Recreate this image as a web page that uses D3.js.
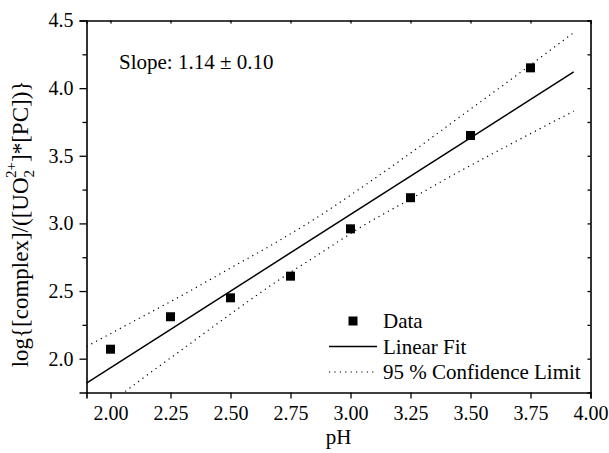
<!doctype html>
<html>
<head>
<meta charset="utf-8">
<script src="https://cdn.jsdelivr.net/npm/d3@7/dist/d3.min.js"></script>
<style>
  body { margin: 0; background: #fff; }
  text { font-family: "Liberation Serif", "Times New Roman", serif; fill: #000; }
</style>
</head>
<body>
<svg id="chart"></svg>
<script>
// measured data
var phValues = [2.00, 2.25, 2.50, 2.75, 3.00, 3.25, 3.50, 3.75];
var logValues = [2.07, 2.31, 2.45, 2.61, 2.96, 3.19, 3.65, 4.15];
// linear fit end points
var fitX = [1.90, 3.93];
var fitY = [1.82, 4.12];
// 95 % confidence limits
var bandX = [1.90, 2.10, 2.30, 2.50, 2.70, 2.875, 3.05, 3.25, 3.45, 3.65, 3.93];
var upperY = [2.09, 2.28, 2.47, 2.67, 2.87, 3.06, 3.27, 3.52, 3.78, 4.04, 4.41];
var lowerY = [1.54, 1.81, 2.07, 2.33, 2.58, 2.78, 2.98, 3.18, 3.38, 3.57, 3.83];
// ticks
var xTicks = [2.00, 2.25, 2.50, 2.75, 3.00, 3.25, 3.50, 3.75, 4.00];
var yMajor = [2.0, 2.5, 3.0, 3.5, 4.0, 4.5];
var yMinor = [2.25, 2.75, 3.25, 3.75, 4.25];
var legendItems = ["Data", "Linear Fit", "95 % Confidence Limit"];
var slopeText = "Slope: 1.14 \u00b1 0.10";

var width = 609, height = 453;
var margin = {top: 20.5, right: 18.5, bottom: 60.5, left: 86.5};
var w = width - margin.left - margin.right, h = height - margin.top - margin.bottom;

var x = d3.scaleLinear().domain([1.9, 4.0]).range([0, w]);
var y = d3.scaleLinear().domain([1.75, 4.5]).range([h, 0]);

var svg = d3.select("#chart").attr("width", width).attr("height", height);
var chart = svg.append("g").attr("transform", "translate(" + margin.left + "," + margin.top + ")");

chart.append("clipPath").attr("id", "clip")
     .append("rect").attr("width", w).attr("height", h);

// axes
var fs = "20px";
var xAxis = chart.append("g").attr("transform", "translate(0," + h + ")")
     .call(d3.axisBottom(x).tickValues(xTicks).tickFormat(d3.format(".2f")).tickSizeOuter(0).tickSize(6).tickPadding(7));
var xTop = chart.append("g")
     .call(d3.axisBottom(x).tickValues(xTicks).tickFormat("").tickSizeOuter(0).tickSize(3));
var yAxis = chart.append("g")
     .call(d3.axisLeft(y).tickValues(yMajor).tickFormat(d3.format(".1f")).tickSizeOuter(0).tickSize(7).tickPadding(6));
chart.append("g")
     .call(d3.axisLeft(y).tickValues(yMinor).tickFormat("").tickSizeOuter(0).tickSize(4))
     .select(".domain").remove();
var yRight = chart.append("g").attr("transform", "translate(" + w + ",0)")
     .call(d3.axisLeft(y).tickValues(yMajor.concat(yMinor)).tickFormat("").tickSizeOuter(0).tickSize(3));

chart.selectAll(".domain").attr("stroke", "#000").attr("stroke-width", 1.6);
chart.selectAll(".tick line").attr("stroke", "#000").attr("stroke-width", 1.3);
chart.selectAll(".tick text").style("font-size", fs).style("font-family", "Liberation Serif");
// top and right ticks point inside
xTop.selectAll(".tick line").attr("y2", 3);
yRight.selectAll(".tick line").attr("x2", -3);

// lines
var plotArea = chart.append("g").attr("clip-path", "url(#clip)");
var bandLine = d3.line().curve(d3.curveMonotoneX).x(function (d) { return x(d[0]); }).y(function (d) { return y(d[1]); });
plotArea.append("path").datum(d3.zip(bandX, upperY)).attr("d", bandLine)
     .attr("fill", "none").attr("stroke", "#000").attr("stroke-width", 1.2).attr("stroke-dasharray", "1.2,4.2");
plotArea.append("path").datum(d3.zip(bandX, lowerY)).attr("d", bandLine)
     .attr("fill", "none").attr("stroke", "#000").attr("stroke-width", 1.2).attr("stroke-dasharray", "1.2,4.2");
plotArea.append("path").datum(d3.zip(fitX, fitY)).attr("d", bandLine)
     .attr("fill", "none").attr("stroke", "#000").attr("stroke-width", 1.5);

// points
var ms = 9;
chart.selectAll("rect.pt").data(d3.zip(phValues, logValues)).enter().append("rect")
     .attr("class", "pt")
     .attr("x", function (d) { return x(d[0]) - ms / 2; })
     .attr("y", function (d) { return y(d[1]) - ms / 2; })
     .attr("width", ms).attr("height", ms).attr("fill", "#000");

// slope annotation
chart.append("text").attr("x", 119 - margin.left).attr("y", 69 - margin.top)
     .style("font-size", "21px").text(slopeText);

// legend
var leg = svg.append("g").attr("transform", "translate(329,321)");
var rowH = 25.5;
leg.append("rect").attr("x", 24 - ms / 2).attr("y", -ms / 2).attr("width", ms).attr("height", ms).attr("fill", "#000");
leg.append("line").attr("x1", 0).attr("x2", 48).attr("y1", rowH).attr("y2", rowH)
     .attr("stroke", "#000").attr("stroke-width", 1.5);
leg.append("line").attr("x1", 0).attr("x2", 48).attr("y1", 2 * rowH).attr("y2", 2 * rowH)
     .attr("stroke", "#000").attr("stroke-width", 1.2).attr("stroke-dasharray", "1.2,4.2");
leg.selectAll("text.lg").data(legendItems).enter().append("text")
     .attr("class", "lg")
     .attr("x", 54).attr("y", function (d, i) { return i * rowH; })
     .attr("dy", "0.35em").style("font-size", "21px").text(function (d) { return d; });

// axis titles
svg.append("text").attr("x", margin.left + w / 2).attr("y", 444)
     .attr("text-anchor", "middle").style("font-size", "21px").text("pH");

var yl = svg.append("text")
     .attr("transform", "translate(28,224) rotate(-90)")
     .attr("text-anchor", "middle").style("font-size", "23px");
yl.append("tspan").text("log{[complex]/([UO");
yl.append("tspan").attr("dy", 6).style("font-size", "15px").text("2");
yl.append("tspan").attr("dx", -8).attr("dy", -18).style("font-size", "15px").text("2+");
yl.append("tspan").attr("dy", 12).text("]*[PC])}");
</script>
</body>
</html>
